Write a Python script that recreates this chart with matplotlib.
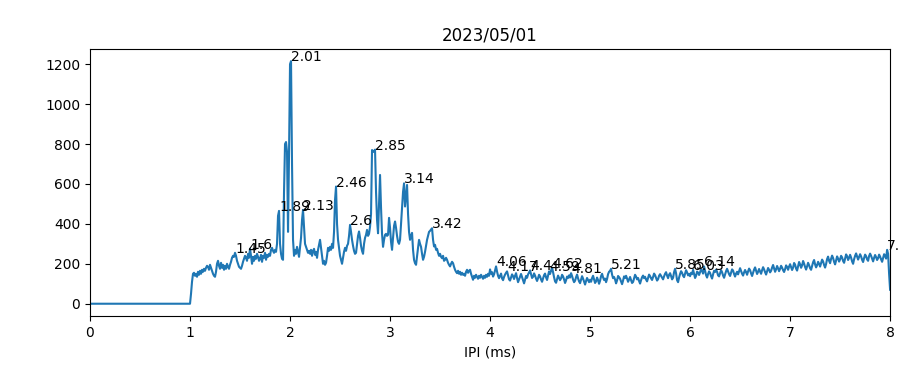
import numpy as np
import matplotlib
matplotlib.use("Agg")
import matplotlib.pyplot as plt

# IPI histogram, 0.01 ms bins from 0.00 to 8.00 ms
bin_width = 0.01

counts_0ms = [0] * 100  # nothing below 1 ms

counts_1ms = [
    0, 50, 110, 150, 155, 140, 150, 135, 160, 145,
    165, 150, 170, 160, 175, 165, 180, 190, 185, 170,
    195, 180, 165, 150, 140, 135, 160, 200, 215, 190,
    175, 205, 180, 195, 170, 190, 175, 200, 185, 175,
    195, 210, 230, 240, 235, 255, 240, 215, 200, 185,
    180, 175, 190, 210, 225, 240, 230, 215, 250, 230,
    275, 240, 200, 235, 215, 240, 225, 250, 235, 215,
    225, 245, 210, 240, 230, 255, 220, 245, 235, 250,
    240, 270, 280, 265, 255, 270, 260, 300, 440, 465,
    300, 250, 225, 220, 560, 800, 810, 760, 360, 750,
]

counts_2ms = [
    1200, 1215, 700, 320, 240, 270, 250, 285, 260, 235,
    280, 330, 420, 470, 380, 300, 285, 270, 255, 265,
    250, 270, 240, 265, 275, 245, 260, 230, 270, 295,
    320, 280, 240, 200, 215, 195, 205, 240, 280, 265,
    285, 270, 300, 280, 360, 520, 587, 400, 320, 280,
    240, 220, 200, 230, 260, 280, 265, 290, 300, 340,
    395, 360, 320, 290, 265, 250, 255, 300, 340, 362,
    330, 290, 265, 250, 300, 330, 345, 370, 340, 350,
    386, 450, 770, 760, 765, 772, 560, 420, 353, 500,
    645, 480, 350, 285, 320, 345, 350, 340, 345, 430,
]

counts_3ms = [
    380, 310, 270, 330, 390, 412, 380, 340, 310, 300,
    320, 400, 480, 560, 603, 487, 540, 595, 450, 360,
    320, 340, 355, 270, 220, 203, 195, 240, 280, 320,
    300, 285, 250, 220, 235, 260, 290, 320, 340, 360,
    365, 372, 378, 320, 287, 295, 270, 275, 255, 240,
    250, 235, 228, 240, 215, 220, 230, 220, 205, 195,
    187, 200, 210, 203, 185, 170, 160, 153, 165, 150,
    160, 145, 155, 145, 150, 140, 160, 170, 155, 165,
    170, 150, 135, 120, 140, 130, 145, 135, 125, 140,
    130, 145, 135, 125, 140, 130, 145, 135, 150, 140,
]

counts_4ms = [
    172, 150, 158, 136, 147, 168, 187, 161, 140, 128,
    139, 151, 127, 118, 134, 146, 155, 162, 141, 122,
    116, 131, 147, 138, 124, 140, 153, 129, 108, 122,
    137, 149, 133, 118, 102, 121, 139, 130, 147, 156,
    167, 148, 129, 135, 152, 141, 126, 114, 128, 145,
    137, 121, 110, 126, 143, 151, 132, 119, 140, 162,
    149, 166, 180, 158, 133, 112, 105, 124, 141, 130,
    118, 127, 145, 137, 122, 104, 117, 136, 129, 142,
    131, 153, 139, 121, 108, 115, 133, 146, 127, 112,
    103, 121, 138, 126, 111, 96, 114, 129, 119, 108,
]

counts_5ms = [
    120, 110, 128, 140, 122, 104, 112, 131, 118, 100,
    115, 138, 150, 132, 119, 126, 108, 124, 148, 160,
    165, 175, 146, 128, 134, 121, 102, 117, 139, 133,
    125, 112, 98, 116, 137, 129, 140, 126, 110, 121,
    134, 118, 104, 109, 127, 145, 136, 122, 129, 114,
    101, 118, 133, 141, 128, 135, 121, 112, 130, 146,
    138, 127, 119, 134, 151, 143, 129, 116, 123, 140,
    148, 139, 131, 122, 137, 150, 158, 141, 128, 145,
    153, 139, 122, 130, 158, 175, 152, 118, 108, 131,
    149, 163, 155, 140, 133, 151, 168, 157, 142, 150,
]

counts_6ms = [
    138, 155, 148, 170, 150, 129, 140, 161, 156, 144,
    158, 172, 164, 151, 187, 166, 143, 131, 149, 162,
    154, 138, 126, 147, 165, 159, 171, 160, 142, 137,
    152, 168, 158, 141, 130, 146, 163, 175, 161, 148,
    139, 155, 172, 166, 149, 136, 151, 160, 147, 163,
    178, 164, 150, 141, 157, 169, 158, 145, 162, 176,
    168, 152, 139, 155, 171, 182, 165, 149, 160, 174,
    161, 150, 168, 183, 172, 158, 146, 163, 179, 170,
    157, 165, 181, 194, 176, 160, 172, 189, 177, 163,
    175, 190, 181, 168, 159, 173, 192, 184, 170, 186,
]

counts_7ms = [
    198, 183, 169, 181, 204, 196, 176, 166, 188, 209,
    197, 180, 192, 214, 201, 184, 171, 187, 205, 193,
    178, 170, 190, 208, 219, 197, 182, 193, 210, 200,
    186, 203, 221, 212, 194, 181, 199, 224, 236, 215,
    203, 225, 241, 229, 210, 197, 218, 237, 226, 211,
    222, 240, 232, 214, 205, 226, 247, 238, 219, 230,
    245, 231, 212, 200, 223, 240, 252, 236, 221, 234,
    248, 237, 220, 209, 229, 246, 238, 222, 215, 239,
    251, 240, 226, 212, 230, 244, 233, 219, 228, 246,
    236, 222, 210, 229, 248, 239, 226, 270, 250, 150,
]

counts_8ms = [70]

# peaks that got a label
peak_ipis = [1.45, 1.6, 1.89, 2.01, 2.13, 2.46, 2.6, 2.85, 3.14, 3.42,
             4.06, 4.17, 4.4, 4.59, 4.62, 4.81, 5.21, 5.85, 6.03, 6.14, 7.97]

title = "2023/05/01"


counts = np.array(counts_0ms + counts_1ms + counts_2ms + counts_3ms + counts_4ms
                  + counts_5ms + counts_6ms + counts_7ms + counts_8ms)
ipi = np.arange(len(counts)) * bin_width

fig, ax = plt.subplots(figsize=(9, 3.66), dpi=100)
fig.subplots_adjust(left=0.1, right=0.989, top=0.866, bottom=0.137)

ax.plot(ipi, counts)

# label each peak with its IPI, text starts at the peak itself
for p in peak_ipis:
    idx = int(round(p / bin_width))
    ax.text(ipi[idx], counts[idx], str(p))

ax.set_xlim(0, 8)
ax.set_title(title)
ax.set_xlabel("IPI (ms)")

fig.savefig("out.png")
